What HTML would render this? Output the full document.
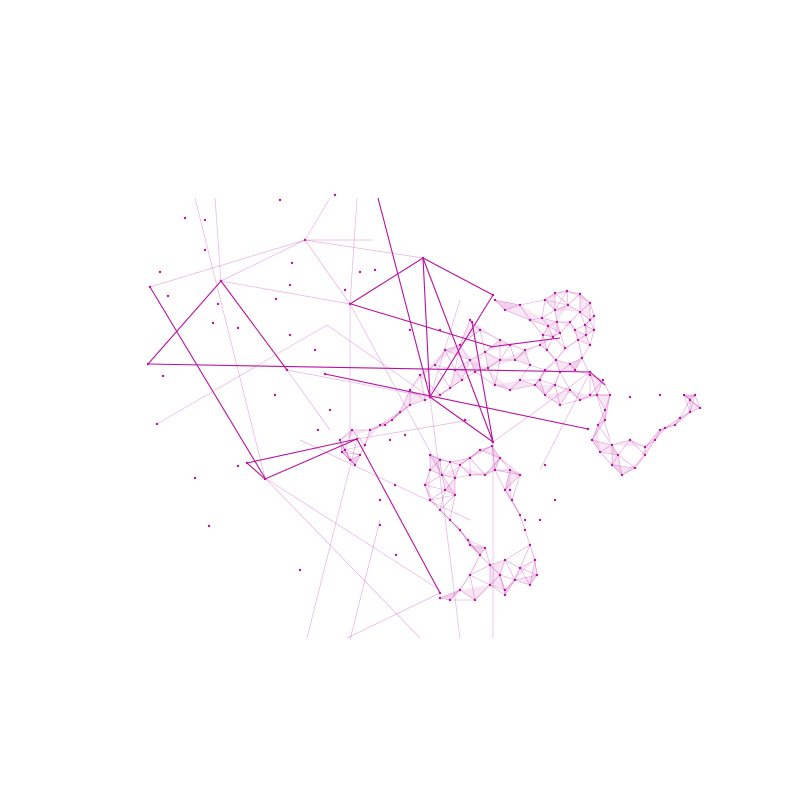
<!DOCTYPE html>
<html><head><meta charset="utf-8"><style>html,body{margin:0;background:#fff}svg{display:block}</style></head>
<body>
<svg id="chart" width="800" height="800" viewBox="0 0 800 800">
<g id="fills"></g>
<g id="light"></g>
<g id="mesh"></g>
<g id="strong"></g>
<g id="dots"></g>
</svg>
<script>
const strongEdges=[[150,287,265,478],[148,364,221,281],[221,281,287,370],[148,364,590,372],[378,198,430,397],[430,397,493,442],[423,258,350,304],[423,258,430,397],[423,258,493,295],[423,258,493,442],[351,304,493,347],[430,397,493,295],[325,374,588,429],[472,322,493,442],[247,463,357,439],[357,439,265,479],[247,463,265,479],[357,439,440,593],[490,347,560,338],[590,372,605,385]];
const lightEdges=[[195,198,265,478],[305,240,423,258],[305,240,221,281],[305,240,330,198],[305,240,350,304],[221,281,350,304],[157,424,327,325],[327,325,430,397],[357,198,350,304],[350,304,350,440],[307,638,357,439],[347,638,440,593],[493,442,493,638],[420,638,265,478],[460,638,430,397],[287,370,430,397],[215,198,221,281],[350,304,440,470],[150,287,305,240],[265,478,440,590],[590,372,540,470],[300,440,470,520],[380,520,350,640],[305,240,372,240],[287,370,330,430],[590,372,610,440],[493,442,590,372],[430,397,460,300],[357,439,470,420]];
const meshNodes=[[545,300],[555,293],[567,291],[580,294],[590,303],[594,316],[594,330],[590,345],[582,358],[570,364],[556,360],[547,350],[543,335],[542,318],[555,310],[568,305],[580,312],[585,325],[578,340],[565,348],[553,337],[557,322],[570,322],[575,330],[586,335],[560,333],[548,326],[590,320],
[540,345],[525,350],[510,345],[500,340],[515,360],[530,365],[545,370],[560,372],[575,370],[590,375],[603,380],[500,360],[488,368],[475,372],[462,380],[450,388],[440,395],[425,400],[410,405],[400,412],[392,420],[380,425],[470,360],[485,352],[455,370],[520,380],[535,385],[510,390],[495,385],
[597,395],[605,410],[598,425],[592,440],[600,452],[612,465],[622,475],[635,468],[645,455],[655,440],[665,428],[680,418],[690,400],[700,408],[695,395],[684,395],[690,412],[675,425],[660,430],[645,447],[618,455],[630,440],[612,445],[605,420],[590,395],[610,395],
[430,455],[440,460],[450,462],[460,465],[470,458],[480,450],[492,446],[500,458],[510,470],[520,475],[495,470],[485,475],[470,475],[455,478],[442,475],[430,470],[425,485],[430,500],[440,510],[450,520],[460,530],[470,545],[480,555],[490,565],[500,575],[515,580],[530,585],[537,575],[535,560],[530,545],[525,530],[520,515],[512,500],[505,490],[445,490],[455,495],[468,540],[485,548],[505,560],[520,568],[505,595],[490,585],[470,575],[460,590],[450,600],[440,598],[475,600],[505,590],
[340,440],[345,450],[350,460],[355,465],[360,455],[365,445],[352,430],[342,452],[370,430],[385,425],
[470,320],[480,330],[495,300],[505,310],[520,305],[530,320],[460,345],[445,350],[435,365],[420,375],[410,390],[540,380],[555,385],[570,390],[580,400],[560,405],[545,395]];
const scatterDots=[[185,218],[205,220],[160,272],[168,296],[218,304],[213,323],[238,328],[276,299],[292,263],[290,285],[318,430],[290,335],[157,424],[163,376],[195,478],[209,526],[238,466],[300,570],[335,195],[280,200],[205,250],[375,270],[360,272],[396,555],[380,525],[345,290],[410,330],[440,330],[510,490],[525,520],[540,520],[630,397],[660,395],[221,281],[305,240],[423,258],[350,304],[287,370],[430,397],[493,442],[357,439],[265,479],[247,463],[440,593],[590,372],[493,295],[472,322],[588,429],[325,374],[148,364],[150,287],[390,440],[405,435],[330,410],[315,350],[275,395],[465,420],[545,465],[555,500],[395,485],[380,500]];
const NS='http://www.w3.org/2000/svg';
function line(g,x1,y1,x2,y2,stroke,w){const l=document.createElementNS(NS,'line');


l.setAttribute('x1',x1);l.setAttribute('y1',y1);l.setAttribute('x2',x2);l.setAttribute('y2',y2);
l.setAttribute('stroke',stroke);l.setAttribute('stroke-width',w);g.appendChild(l);}
const gs=document.getElementById('strong'),gl=document.getElementById('light'),gm=document.getElementById('mesh'),gf=document.getElementById('fills'),gd=document.getElementById('dots');
strongEdges.forEach(e=>line(gs,e[0],e[1],e[2],e[3],'#b8139c',1.1));
lightEdges.forEach(e=>line(gl,e[0],e[1],e[2],e[3],'rgba(200,60,180,0.4)',0.7));
const seen=new Set();
meshNodes.forEach((p,i)=>{
 const d=meshNodes.map((q,j)=>[j,Math.hypot(q[0]-p[0],q[1]-p[1])]).filter(a=>a[0]!==i&&a[1]<30).sort((a,b)=>a[1]-b[1]).slice(0,4);
 d.forEach(a=>{const k=Math.min(i,a[0])+'-'+Math.max(i,a[0]);if(seen.has(k))return;seen.add(k);
  const q=meshNodes[a[0]];line(gm,p[0],p[1],q[0],q[1],'rgba(190,40,170,0.45)',0.6);});
 if(d.length>=2){const a=meshNodes[d[0][0]],b=meshNodes[d[1][0]];
  const t=document.createElementNS(NS,'polygon');
  
  
  t.setAttribute('points',`${p[0]},${p[1]} ${a[0]},${a[1]} ${b[0]},${b[1]}`);
  t.setAttribute('fill','rgba(210,90,190,0.15)');gf.appendChild(t);}
});
meshNodes.concat(scatterDots).forEach(p=>{const c=document.createElementNS(NS,'circle');
 
 
 c.setAttribute('cx',p[0]);c.setAttribute('cy',p[1]);c.setAttribute('r',1.2);c.setAttribute('fill','#b8139c');gd.appendChild(c);});
</script>
</body></html>
